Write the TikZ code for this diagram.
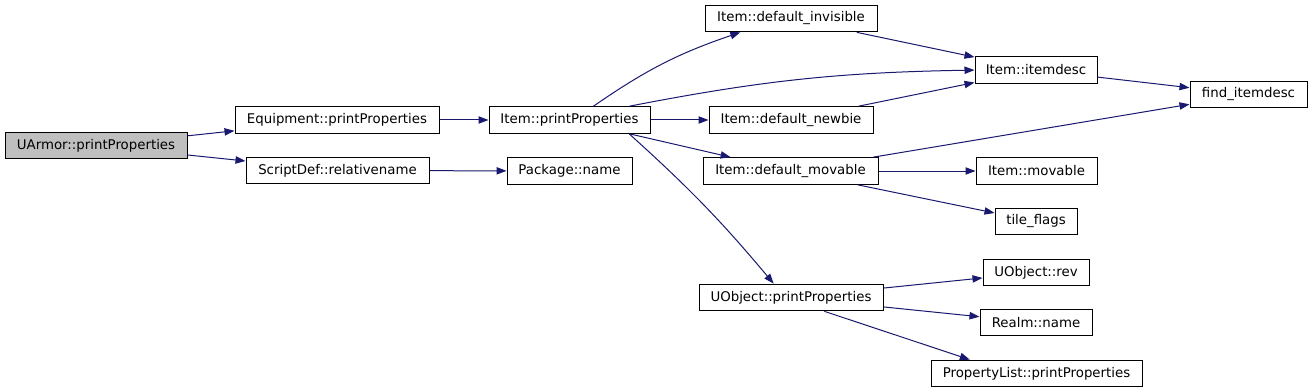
\documentclass[tikz,border=0pt]{standalone}
\usepackage{fontspec}
\newfontfamily\graphfont{DejaVu Sans}
\usetikzlibrary{arrows.meta}
\definecolor{edgeblue}{RGB}{25,25,112}
\definecolor{rootgray}{RGB}{191,191,191}

\begin{document}
\begin{tikzpicture}[
  x=0.75pt, y=-0.75pt,
  fnnode/.style={rectangle, draw=black, line width=0.75pt, fill=white, minimum height=20pt, inner sep=0pt, align=center, font=\graphfont\fontsize{10}{12}\selectfont},
  rootnode/.style={fnnode, fill=rootgray},
  call/.style={-{Triangle[length=7.5pt, width=5.5pt]}, line width=0.75pt, color=edgeblue}
]
  \useasboundingbox[fill=white] (0,0) rectangle (1312,392);

  % Nodes
  \node[rootnode, minimum width=136.5pt] (uarmor) at (96,145.5) {UArmor::printProperties};
  \node[fnnode, minimum width=153pt] (equip) at (337,120) {Equipment::printProperties};
  \node[fnnode, minimum width=137.25pt] (scriptdef) at (337.5,170.5) {ScriptDef::relativename};
  \node[fnnode, minimum width=120.75pt] (itempp) at (569.5,120) {Item::printProperties};
  \node[fnnode, minimum width=93.75pt] (pkgname) at (569.5,171) {Package::name};
  \node[fnnode, minimum width=129pt] (definv) at (791,18.5) {Item::default\_invisible};
  \node[fnnode, minimum width=123pt] (defnewbie) at (791,120) {Item::default\_newbie};
  \node[fnnode, minimum width=131.25pt] (defmov) at (790.5,171) {Item::default\_movable};
  \node[fnnode, minimum width=138pt] (uobjpp) at (791,297.5) {UObject::printProperties};
  \node[fnnode, minimum width=91.5pt] (itemdesc) at (1036,70) {Item::itemdesc};
  \node[fnnode, minimum width=90.75pt] (itemmov) at (1036.5,171) {Item::movable};
  \node[fnnode, minimum width=61.5pt] (tileflags) at (1036,221.5) {tile\_flags};
  \node[fnnode, minimum width=79.5pt] (uobjrev) at (1036,272.5) {UObject::rev};
  \node[fnnode, minimum width=84pt] (realmname) at (1036,322.5) {Realm::name};
  \node[fnnode, minimum width=158.25pt] (proplist) at (1036.5,373.5) {PropertyList::printProperties};
  \node[fnnode, minimum width=87.75pt] (finddesc) at (1248.5,94.5) {find\_itemdesc};

  % Calls
  \draw[call] (uarmor) -- (equip);
  \draw[call] (uarmor) -- (scriptdef);
  \draw[call] (equip) -- (itempp);
  \draw[call] (scriptdef) -- (pkgname);
  \draw[call] ([xshift=18pt]itempp.north) to[bend left=8] ([xshift=-38pt]definv.south);
  \draw[call] ([xshift=45pt]itempp.north) to[bend left=5] (itemdesc);
  \draw[call] (itempp) -- (defnewbie);
  \draw[call] (itempp) -- (defmov);
  \draw[call] ([xshift=-16pt]itempp.south east) to[bend left=4] ([xshift=-13pt]uobjpp.north);
  \draw[call] (definv) -- (itemdesc);
  \draw[call] (defnewbie) -- (itemdesc);
  \draw[call] (itemdesc) -- (finddesc);
  \draw[call] (defmov) -- (finddesc);
  \draw[call] (defmov) -- (itemmov);
  \draw[call] (defmov) -- (tileflags);
  \draw[call] (uobjpp) -- (uobjrev);
  \draw[call] (uobjpp) -- (realmname);
  \draw[call] ([xshift=25pt]uobjpp.south) -- ([xshift=-50pt]proplist.north);

\end{tikzpicture}
\end{document}
